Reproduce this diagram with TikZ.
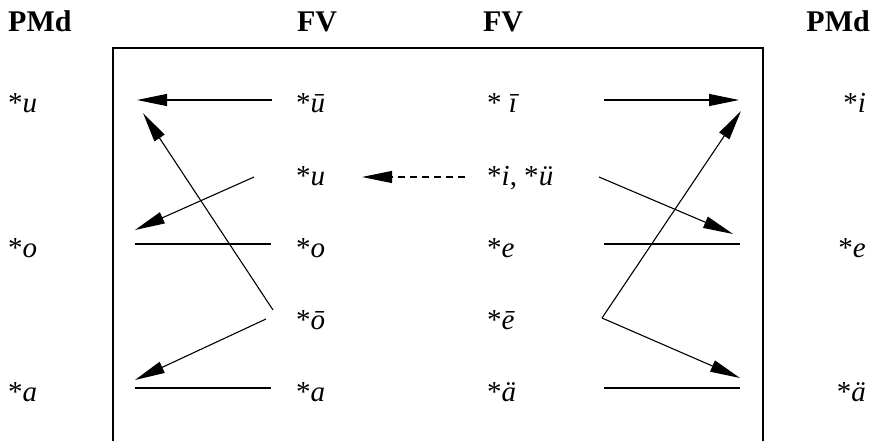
\documentclass[tikz,border=0pt]{standalone}
\usepackage{fontspec}
\setmainfont{Liberation Serif}
\usetikzlibrary{arrows.meta}

\begin{document}
\begin{tikzpicture}[x=1pt,y=-1pt,
  lbl/.style={inner sep=0pt,font=\fontsize{29}{32}\selectfont},
  hd/.style={inner sep=0pt,font=\fontsize{30}{33}\selectfont\bfseries},
  arr/.style={line width=1.1pt,-{Triangle[length=30pt,width=12pt]}},
  bar/.style={line width=1.1pt}]
  \useasboundingbox (0,0) rectangle (870,441);
  % headings
  \node[hd,anchor=base west] (pmdL) at (8,32) {PMd};
  \node[hd,anchor=base] (fvL) at (317,32) {FV};
  \node[hd,anchor=base] (fvR) at (503,32) {FV};
  \node[hd,anchor=base east] (pmdR) at (870,32) {PMd};
  % frame
  \draw[line width=1.8pt] (113,450) -- (113,48) -- (763,48) -- (763,450);
  % PMd, left
  \node[lbl,anchor=base west] (pu) at (8,113) {*\textit{u}};
  \node[lbl,anchor=base west] (po) at (8,257) {*\textit{o}};
  \node[lbl,anchor=base west] (pa) at (8,401) {*\textit{a}};
  % FV, back vowels
  \node[lbl,anchor=base west] (fubar) at (296,113) {*\textit{ū}};
  \node[lbl,anchor=base west] (fu) at (296,185) {*\textit{u}};
  \node[lbl,anchor=base west] (fo) at (296,257) {*\textit{o}};
  \node[lbl,anchor=base west] (fobar) at (296,329) {*\textit{ō}};
  \node[lbl,anchor=base west] (fa) at (296,401) {*\textit{a}};
  % FV, front vowels
  \node[lbl,anchor=base west] (fibar) at (487,113) {* \textit{ī}};
  \node[lbl,anchor=base west] (fi) at (487,185) {*\textit{i}, *\textit{ü}};
  \node[lbl,anchor=base west] (fe) at (487,257) {*\textit{e}};
  \node[lbl,anchor=base west] (febar) at (487,329) {*\textit{ē}};
  \node[lbl,anchor=base west] (fae) at (487,401) {*\textit{ä}};
  % PMd, right
  \node[lbl,anchor=base east] (pi) at (866,113) {*\textit{i}};
  \node[lbl,anchor=base east] (pe) at (866,257) {*\textit{e}};
  \node[lbl,anchor=base east] (pae) at (866,401) {*\textit{ä}};
  % ends of the connectors, left half
  \coordinate (ubarS) at (272,100);
  \coordinate (ubarT) at (137,100);
  \coordinate (obarS) at (273,310);
  \coordinate (obarT) at (143,113);
  \coordinate (uS) at (254,177);
  \coordinate (uT) at (135,230);
  \coordinate (oS) at (135,244);
  \coordinate (oT) at (271,244);
  \coordinate (obarS2) at (266,319);
  \coordinate (obarT2) at (135,380);
  \coordinate (aS) at (135,388);
  \coordinate (aT) at (271,388);
  \coordinate (iS) at (465,177);
  \coordinate (iT) at (362,177);
  % ends of the connectors, right half
  \coordinate (ibarS) at (604,100);
  \coordinate (ibarT) at (739,100);
  \coordinate (ebarV) at (602,318);
  \coordinate (ebarT) at (741,111);
  \coordinate (iS2) at (599,177);
  \coordinate (iT2) at (733,234);
  \coordinate (eS) at (604,244);
  \coordinate (eT) at (740,244);
  \coordinate (ebarT2) at (740,378);
  \coordinate (aeS) at (604,388);
  \coordinate (aeT) at (740,388);
  % connectors
  \draw[arr] (ubarS) -- (ubarT);
  \draw[arr] (obarS) -- (obarT);
  \draw[arr] (uS) -- (uT);
  \draw[bar] (oS) -- (oT);
  \draw[arr] (obarS2) -- (obarT2);
  \draw[bar] (aS) -- (aT);
  \draw[arr,dash pattern=on 7pt off 5pt] (iS) -- (iT);
  \draw[arr] (ibarS) -- (ibarT);
  \draw[arr] (ebarV) -- (ebarT);
  \draw[arr] (iS2) -- (iT2);
  \draw[bar] (eS) -- (eT);
  \draw[arr] (ebarV) -- (ebarT2);
  \draw[bar] (aeS) -- (aeT);
\end{tikzpicture}
\end{document}
